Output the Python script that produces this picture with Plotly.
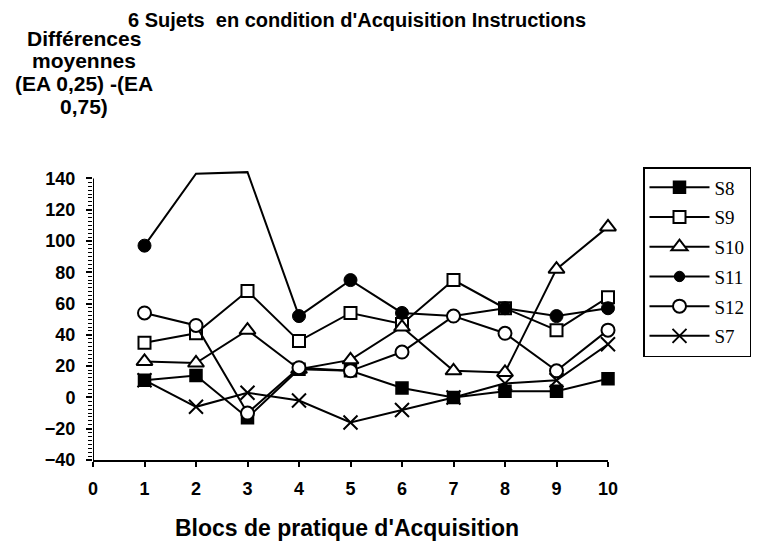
import plotly.graph_objects as go

blocs = [1, 2, 3, 4, 5, 6, 7, 8, 9, 10]
s8 = [11, 14, -13, 18, 17, 6, 0, 4, 4, 12]
s9 = [35, 41, 68, 36, 54, 47, 75, 57, 43, 64]
s10 = [23, 22, 43, 18, 24, 45, 17, 16, 82, 109]
s11 = [97, 143, 144, 52, 75, 54, 52, 57, 52, 57]
s12 = [54, 46, -10, 19, 17, 29, 52, 41, 17, 43]
s7 = [11, -6, 3, -2, -16, -8, 0, 9, 11, 34]
y_ticks = [-40, -20, 0, 20, 40, 60, 80, 100, 120, 140]
x_ticks = [0, 1, 2, 3, 4, 5, 6, 7, 8, 9, 10]
y_title_lines = ["Différences", "moyennes", "(EA 0,25) -(EA", "0,75)"]

series = [
    ("S8", s8, dict(symbol="square", color="black", size=12, opacity=1,
                    line=dict(color="black", width=1.5))),
    ("S9", s9, dict(symbol="square", color="white", size=12, opacity=1,
                    line=dict(color="black", width=2))),
    ("S10", s10, dict(symbol="triangle-up", color="white", size=14, opacity=1,
                      line=dict(color="black", width=2))),
    ("S11", s11, dict(symbol="circle", color="black", opacity=1,
                      size=[13, 0, 0, 13, 13, 13, 13, 13, 13, 13],
                      line=dict(color="black", width=1))),
    ("S12", s12, dict(symbol="circle", color="white", size=13, opacity=1,
                      line=dict(color="black", width=2))),
    ("S7", s7, dict(symbol="x-thin", color="black", size=14, opacity=1,
                    line=dict(color="black", width=2))),
]

fig = go.Figure()
for name, vals, mk in series:
    fig.add_trace(go.Scatter(
        x=blocs, y=vals, name=name, mode="lines+markers",
        line=dict(color="black", width=2), marker=mk,
        legendgroup=name, cliponaxis=False,
    ))

FONT = "Liberation Sans, Arial, sans-serif"
W, H = 766, 544
ml, mr, mt, mb = 93, 158, 169, 84
pw = W - ml - mr
ph = H - mt - mb


def px_x(p):
    return (p - ml) / pw


def px_y(p):
    return (H - mb - p) / ph


annotations = [
    dict(text="<b>6 Sujets  en condition d'Acquisition Instructions</b>",
         xref="paper", yref="paper", x=px_x(357), y=px_y(20),
         xanchor="center", yanchor="middle", showarrow=False,
         font=dict(family=FONT, size=20, color="black")),
    dict(text="<b>Blocs de pratique d'Acquisition</b>",
         xref="paper", yref="paper", x=px_x(347), y=px_y(528),
         xanchor="center", yanchor="middle", showarrow=False,
         font=dict(family=FONT, size=23, color="black")),
]
for i, line in enumerate(y_title_lines):
    annotations.append(dict(
        text="<b>" + line + "</b>", xref="paper", yref="paper",
        x=px_x(84), y=px_y(38 + 22.7 * i), xanchor="center", yanchor="middle",
        showarrow=False, font=dict(family=FONT, size=21, color="black")))

fig.update_layout(
    width=W, height=H,
    margin=dict(l=ml, r=mr, t=mt, b=mb),
    plot_bgcolor="white", paper_bgcolor="white",
    font=dict(family=FONT, size=17, color="black"),
    showlegend=True,
    legend=dict(
        x=px_x(643), y=px_y(167), xanchor="left", yanchor="top",
        bordercolor="black", borderwidth=1.5, bgcolor="white",
        font=dict(family="Liberation Serif, Times New Roman, serif", size=19, color="black"),
        tracegroupgap=2, itemwidth=60,
    ),
    xaxis=dict(
        range=[0, 10], tickvals=x_ticks, showgrid=False, zeroline=False,
        showline=True, linecolor="black", linewidth=2,
        ticks="outside", ticklen=5, tickwidth=2, tickcolor="black",
        ticklabelstandoff=6,
        tickfont=dict(family=FONT, size=18, color="black", weight="bold"),
    ),
    yaxis=dict(
        range=[-40, 146], tickvals=y_ticks, showgrid=False, zeroline=False,
        showline=False,
        ticks="outside", ticklen=6, tickwidth=2, tickcolor="black",
        ticklabelstandoff=7,
        tickfont=dict(family=FONT, size=18, color="black", weight="bold"),
        minor=dict(tickvals=[v / 2 for v in range(-80, 281, 5)], ticks="outside",
                   ticklen=4, tickwidth=1, tickcolor="black"),
    ),
    shapes=[dict(type="line", xref="x", yref="y", x0=0, x1=0, y0=-40, y1=140,
                 line=dict(color="black", width=2))],
    annotations=annotations,
)

fig.write_html("out.html", config={"displayModeBar": False},
               post_script="document.body.style.margin='0';")
